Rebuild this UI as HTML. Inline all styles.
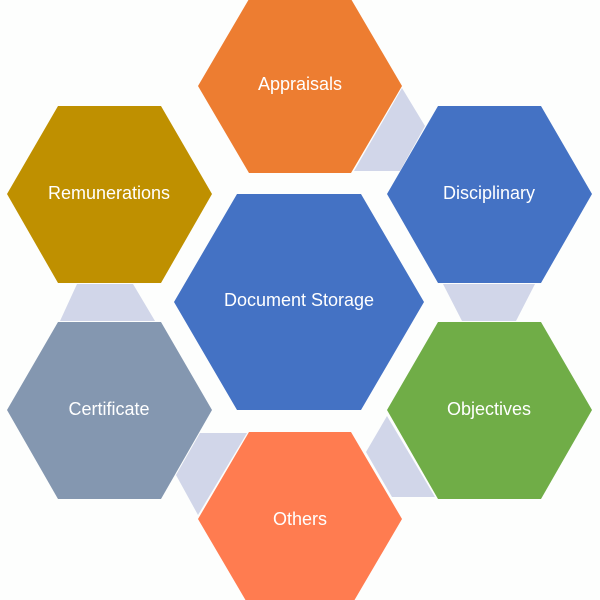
<!DOCTYPE html>
<html><head><style>
html,body{margin:0;padding:0;background:#fdfefd;}
svg{display:block}
text{font-family:"Liberation Sans","DejaVu Sans",sans-serif;font-size:18px;fill:#fff;text-anchor:middle;dominant-baseline:central}
</style></head><body>
<svg width="600" height="600" viewBox="0 0 600 600">
<g fill="#d1d6e9">
<polygon points="402,88 425,126 400,171 354,171"/>
<polygon points="77,284 133,284 155,321 60,321"/>
<polygon points="443,284 535,284 516,321 462,321"/>
<polygon points="200,433 247,433 198,515 176,475"/>
<polygon points="387,416 366,452 392,497 435,497"/>
</g>
<polygon fill="#ed7d31" points="198,86 249,-1 351,-1 402,86 351,173 249,173"/>
<polygon fill="#bf9000" points="7,194 58,106 161,106 212,194 161,283 58,283"/>
<polygon fill="#4472c4" points="387,194 438,106 541,106 592,194 541,283 438,283"/>
<polygon fill="#4472c4" points="174,302 237,194 361,194 424,302 361,410 237,410"/>
<polygon fill="#8497b0" points="7,410 58,322 161,322 212,410 161,499 58,499"/>
<polygon fill="#70ad47" points="387,410 438,322 541,322 592,410 541,499 438,499"/>
<polygon fill="#ff7c50" points="198,519 249,432 351,432 402,519 351,606 249,606"/>
<text x="300" y="84">Appraisals</text>
<text x="109" y="193">Remunerations</text>
<text x="489" y="193">Disciplinary</text>
<text x="299" y="300">Document Storage</text>
<text x="109" y="409">Certificate</text>
<text x="489" y="409">Objectives</text>
<text x="300" y="519">Others</text>
</svg>
</body></html>
